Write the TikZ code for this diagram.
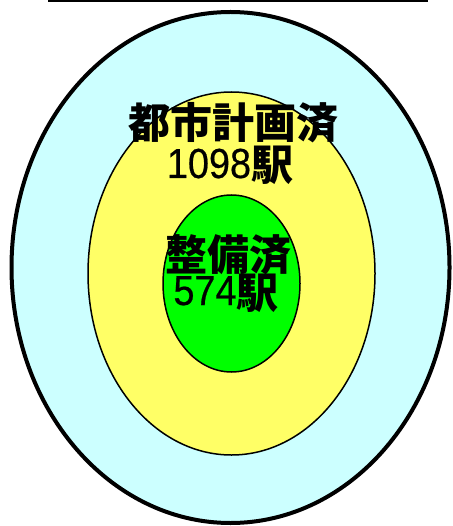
\documentclass[tikz,border=0pt]{standalone}
\usepackage{fontspec}
\usetikzlibrary{shapes.geometric}
\setmainfont{Liberation Sans}
\newfontfamily\cjk{Noto Sans CJK JP}
\newfontfamily\digits[FakeBold=0.5,FakeStretch=0.9]{Liberation Sans}
\tikzset{
  ring/.style={draw=black, line width=1.5pt, ellipse, inner sep=0pt},
  lbl/.style={anchor=base, inner sep=0pt, font=\fontsize{42}{42}\selectfont},
}
\begin{document}
\begin{tikzpicture}[x=1pt,y=1pt]
\useasboundingbox (0,0) rectangle (452,-526);
\coordinate (la) at (48,-1);
\coordinate (lb) at (428,-1);
\draw[line width=2pt] (la) -- (lb);
\node[ring, line width=4pt, fill={rgb,255:red,204;green,255;blue,255}, minimum width=438pt, minimum height=511pt] (outer) at (230.5,-267.5) {};
\node[ring, fill={rgb,255:red,255;green,255;blue,102}, minimum width=287pt, minimum height=363pt] (mid) at (231.5,-273.5) {};
\node[ring, fill={rgb,255:red,0;green,255;blue,0}, minimum width=137pt, minimum height=177pt] (inner) at (231.5,-283.5) {};
\node[lbl] (t1) at (233,-139) {\cjk\bfseries 都市計画済};
\node[lbl] (t2) at (230,-178) {{\digits 1098}\raisebox{-3pt}{\cjk\bfseries 駅}};
\node[lbl] (t3) at (228,-270) {\cjk\bfseries 整備済};
\node[lbl] (t4) at (226,-305) {{\digits 574}\raisebox{-3pt}{\cjk\bfseries 駅}};
\end{tikzpicture}
\end{document}
